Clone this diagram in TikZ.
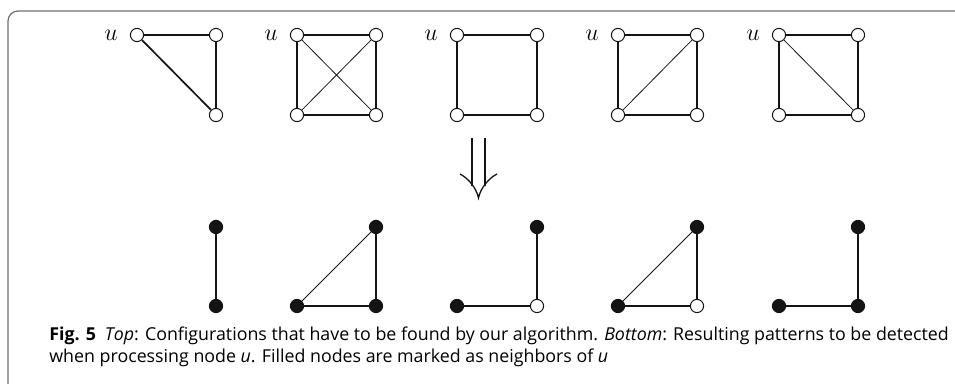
\documentclass[tikz,border=0pt]{standalone}
\usepackage{fontspec}
\newfontfamily\capfont{Open Sans}
\usepackage{xcolor}
\definecolor{framegray}{RGB}{110,110,110}
\definecolor{dotblack}{RGB}{20,20,20}
\usetikzlibrary{positioning}

\begin{document}
\begin{tikzpicture}[x=0.5pt, y=-0.5pt,
  opennode/.style={circle, draw=dotblack, fill=white, line width=0.5pt, inner sep=0pt, minimum size=6.6pt},
  fullnode/.style={circle, draw=dotblack, fill=dotblack, line width=0.5pt, inner sep=0pt, minimum size=6.6pt},
  thickedge/.style={draw=dotblack, line width=0.85pt},
  thinedge/.style={draw=dotblack, line width=0.4pt},
  ulabel/.style={label={[label distance=2.5pt, font=\large]left:$u$}},
  captext/.style={anchor=base west, inner sep=0pt, font=\capfont\fontsize{8.9}{10}\selectfont}]
  \useasboundingbox (0,0) rectangle (955,384);

  % Frame
  \draw[framegray, line width=0.6pt, rounded corners=5] (8,384) -- (8,11) -- (955,11);

  % --- Top row: configurations ---
  % Graph 1
  \node[opennode, ulabel] (u1) at (137,35) {};
  \node[opennode] (r1) at (216,35) {};
  \node[opennode] (b1) at (216,115) {};
  \draw[thickedge] (u1) -- (r1);
  \draw[thickedge] (r1) -- (b1);
  \draw[thickedge] (u1) -- (b1);

  % Graph 2
  \node[opennode, ulabel] (u2) at (297,35) {};
  \node[opennode] (r2) at (376,35) {};
  \node[opennode] (l2) at (297,115) {};
  \node[opennode] (b2) at (376,115) {};
  \draw[thickedge] (u2) -- (r2) -- (b2) -- (l2) -- (u2);
  \draw[thinedge] (u2) -- (b2);
  \draw[thinedge] (l2) -- (r2);

  % Graph 3
  \node[opennode, ulabel] (u3) at (457,35) {};
  \node[opennode] (r3) at (537,35) {};
  \node[opennode] (l3) at (457,115) {};
  \node[opennode] (b3) at (537,115) {};
  \draw[thickedge] (u3) -- (r3) -- (b3) -- (l3) -- (u3);

  % Graph 4
  \node[opennode, ulabel] (u4) at (618,35) {};
  \node[opennode] (r4) at (697,35) {};
  \node[opennode] (l4) at (618,115) {};
  \node[opennode] (b4) at (697,115) {};
  \draw[thickedge] (u4) -- (r4) -- (b4) -- (l4) -- (u4);
  \draw[thinedge] (l4) -- (r4);

  % Graph 5
  \node[opennode, ulabel] (u5) at (779,35) {};
  \node[opennode] (r5) at (858,35) {};
  \node[opennode] (l5) at (779,115) {};
  \node[opennode] (b5) at (858,115) {};
  \draw[thickedge] (u5) -- (r5) -- (b5) -- (l5) -- (u5);
  \draw[thinedge] (u5) -- (b5);

  % --- Double arrow ---
  \coordinate (arrtop) at (478.5,138);
  \coordinate (arrtip) at (478.5,198);
  \draw[dotblack, line width=0.65pt] ([xshift=-3.25pt]arrtop) -- ++(0,48);
  \draw[dotblack, line width=0.65pt] ([xshift=3.25pt]arrtop) -- ++(0,48);
  \draw[dotblack, line width=0.65pt]
    ([xshift=-9.25pt, yshift=12pt]arrtip) .. controls +(8,4) and +(-2,-10) .. (arrtip)
    .. controls +(2,-10) and +(-8,4) .. ([xshift=9.25pt, yshift=12pt]arrtip);

  % --- Bottom row: patterns ---
  % Pattern 1
  \node[fullnode] (p1) at (216,227) {};
  \node[fullnode] (s1) at (216,306) {};
  \draw[thickedge] (p1) -- (s1);

  % Pattern 2
  \node[fullnode] (p2) at (376,227) {};
  \node[fullnode] (q2) at (297,306) {};
  \node[fullnode] (s2) at (376,306) {};
  \draw[thickedge] (q2) -- (s2) -- (p2);
  \draw[thinedge] (q2) -- (p2);

  % Pattern 3
  \node[fullnode] (p3) at (537,227) {};
  \node[fullnode] (q3) at (457,306) {};
  \node[opennode] (s3) at (537,306) {};
  \draw[thickedge] (q3) -- (s3) -- (p3);

  % Pattern 4
  \node[fullnode] (p4) at (697,227) {};
  \node[fullnode] (q4) at (618,306) {};
  \node[opennode] (s4) at (697,306) {};
  \draw[thickedge] (q4) -- (s4) -- (p4);
  \draw[thinedge] (q4) -- (p4);

  % Pattern 5
  \node[fullnode] (p5) at (858,227) {};
  \node[fullnode] (q5) at (779,306) {};
  \node[fullnode] (s5) at (858,306) {};
  \draw[thickedge] (q5) -- (s5) -- (p5);

  % Caption
  \node[captext] (cap1) at (49,341) {\textbf{Fig. 5}\enspace\textit{Top}: Configurations that have to be found by our algorithm. \textit{Bottom}: Resulting patterns to be detected};
  \node[captext] (cap2) at (49,363) {when processing node \textit{u}. Filled nodes are marked as neighbors of \textit{u}};
\end{tikzpicture}
\end{document}
